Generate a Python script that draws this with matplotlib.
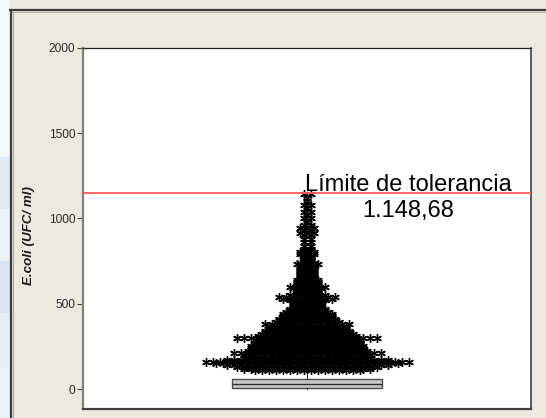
import numpy as np
import matplotlib
matplotlib.use("Agg")
import matplotlib.pyplot as plt
from matplotlib.lines import Line2D

plt.rcParams["font.family"] = ["Liberation Sans", "DejaVu Sans"]

# E. coli counts (UFC/ml): value levels and how many samples share each level
levels = [110, 120, 130, 140, 150, 160, 170, 180, 190, 200,
          210, 220, 230, 240, 250, 260, 270, 280, 290, 300,
          310, 320, 330, 340, 350, 360, 370, 380, 390, 400,
          410, 420, 430, 440, 450, 460, 470, 480, 490, 500,
          510, 520, 530, 540, 550, 560, 570, 580, 590, 600,
          610, 620, 630, 640, 650, 660, 670, 680, 690, 700,
          710, 720, 730, 740, 750, 760, 770, 780, 790, 800,
          810, 820, 840, 860, 880, 900, 915, 930, 945, 960,
          980, 1000, 1020, 1040, 1060, 1080, 1100, 1120, 1140]
counts = [16, 19, 21, 24, 27, 30, 24, 19, 18, 19,
          22, 18, 17, 17, 17, 16, 16, 15, 16, 21,
          15, 14, 13, 13, 12, 12, 12, 13, 10, 9,
          9, 8, 8, 8, 7, 6, 6, 5, 5, 5,
          5, 6, 8, 9, 6, 4, 4, 4, 5, 6,
          4, 4, 4, 4, 3, 3, 3, 3, 3, 3,
          3, 3, 4, 3, 2, 2, 2, 2, 3, 3,
          2, 2, 2, 2, 2, 2, 3, 2, 3, 2,
          1, 2, 1, 2, 1, 2, 1, 1, 2]

# box summary of the lowest counts
box_stats = {"q1": 7, "med": 27, "q3": 58, "whislo": 0, "whishi": 110}

limit_value = 1148.68
limit_title = "Límite de tolerancia"
limit_text = "1.148,68"
y_label = "E.coli (UFC/ ml)"
y_ticks = [0, 500, 1000, 1500, 2000]

W, H = 546, 418
fig = plt.figure(figsize=(W / 100, H / 100), dpi=100)
fig.patch.set_facecolor("#ECE9DF")

# light bluish strip at the far left edge
strip = fig.add_axes([0, 0, 10 / W, 1])
grad = np.array([[0.96, 0.97, 0.99], [0.96, 0.97, 0.99], [0.96, 0.97, 0.99],
                 [0.88, 0.92, 0.96], [0.93, 0.95, 0.98], [0.86, 0.90, 0.96],
                 [0.91, 0.94, 0.97], [0.92, 0.95, 0.98]])
strip.imshow(grad[:, None, :], aspect="auto", extent=[0, 1, 0, 1])
strip.set_axis_off()

# window frame lines
fig.add_artist(Line2D([11 / W, 11 / W], [0, 1 - 9.5 / H], transform=fig.transFigure,
                      color="#3a3a3a", lw=1.6))
fig.add_artist(Line2D([10 / W, 1], [1 - 10 / H, 1 - 10 / H], transform=fig.transFigure,
                      color="#3a3a3a", lw=1.6))
fig.add_artist(Line2D([13 / W, 13 / W], [0, 1 - 12 / H], transform=fig.transFigure,
                      color="#b0aca4", lw=0.8))
fig.add_artist(Line2D([12 / W, 1], [1 - 12 / H, 1 - 12 / H], transform=fig.transFigure,
                      color="#b0aca4", lw=0.8))

ax = fig.add_axes([83 / W, 9 / H, (531 - 83) / W, (409 - 47.7) / H])
ax.set_facecolor("white")
ax.set_xlim(-1, 1)
ax.set_ylim(-117, 2000)

# symmetric dot layout: each level spreads its points side by side
step = 7 / 224.0
xs, ys = [], []
for v, n in zip(levels, counts):
    offs = (np.arange(n) - (n - 1) / 2.0) * step
    xs.extend(offs)
    ys.extend([v] * n)
ax.plot(xs, ys, linestyle="none", marker=(6, 2, 0), markersize=6.2,
        markeredgewidth=1.0, color="black", zorder=3)

bp = ax.bxp([box_stats], positions=[0], widths=0.67, patch_artist=True,
            showcaps=False, showfliers=False, vert=True)
for b in bp["boxes"]:
    b.set_facecolor("#c8c8c8")
    b.set_edgecolor("#4a4a4a")
    b.set_linewidth(1.0)
for m in bp["medians"]:
    m.set_color("#303030")
    m.set_linewidth(1.0)
for w in bp["whiskers"]:
    w.set_color("#303030")
    w.set_linewidth(0.8)

ax.axhline(limit_value, color="#ff5a5a", lw=1.3, zorder=4)
ax.text(0.4509, limit_value + 9, limit_title, ha="center", va="baseline",
        fontsize=17, color="black", zorder=5)
ax.text(0.4509, limit_value - 139, limit_text, ha="center", va="baseline",
        fontsize=17, color="black", zorder=5)

ax.set_xticks([])
ax.set_yticks(y_ticks)
ax.set_yticklabels([str(t) for t in y_ticks])
ax.tick_params(axis="y", direction="out", length=4, width=0.8, color="#404040",
               labelsize=8.6, labelcolor="#2a2a2a", pad=1.5)
ax.set_ylabel(y_label, fontsize=9.6, fontweight="bold", fontstyle="italic",
              color="#1a1a1a")
ax.yaxis.set_label_coords(-0.107, 0.48)

ax.spines["left"].set_color("#808080")
ax.spines["left"].set_linewidth(1.6)
ax.spines["bottom"].set_color("#404040")
ax.spines["bottom"].set_linewidth(1.6)
ax.spines["top"].set_color("#202020")
ax.spines["top"].set_linewidth(0.9)
ax.spines["right"].set_color("#404040")
ax.spines["right"].set_linewidth(1.2)

fig.savefig("out.png", dpi=100, facecolor=fig.get_facecolor())
